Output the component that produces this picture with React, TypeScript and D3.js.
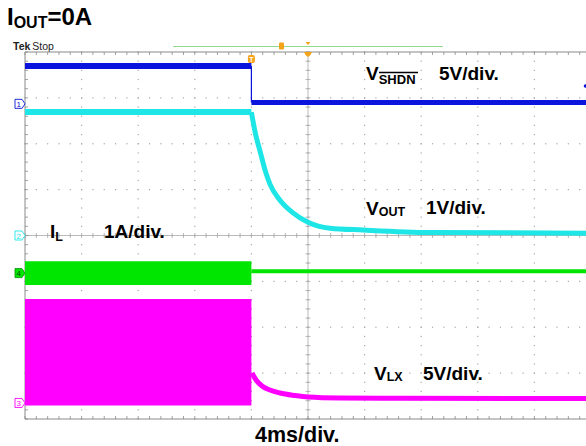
import React from "react";
import * as d3 from "d3";

// ---- data (time in ms, values in channel units) ----
const channelNames = ["1", "2", "3", "4"];
const voltsPerDiv = { ch1: 5, ch2: 1, ch3: 5, ch4: 1 };
const offsetDiv = { ch1: 2.87, ch2: 0, ch3: -3.65, ch4: -0.82 };

const stepTime = 16;

// CH1 V_SHDN
const shdnTime = [0, 16, 16, 40];
const shdnVolts = [4.12, 4.12, 0.15, 0.15];

// CH2 V_OUT
const voutTime = [0, 16, 16.3, 16.61, 16.96, 17.31, 18.02, 18.87, 20.0, 21.55, 23.9, 28.6, 40];
const voutVolts = [2.69, 2.69, 2.2, 1.84, 1.43, 1.12, 0.77, 0.51, 0.29, 0.16, 0.12, 0.065, 0.05];

// CH4 I_L
const ilBeforeTime = [0, 16];
const ilBeforeLo = [-0.26, -0.26];
const ilBeforeHi = [0.26, 0.26];
const ilAfterTime = [16, 40];
const ilAfterAmps = [0.04, 0.04];

// CH3 V_LX
const lxBeforeTime = [0, 16];
const lxBeforeLo = [-0.28, -0.28];
const lxBeforeHi = [11.33, 11.33];
const lxAfterTime = [16.04, 16.33, 16.75, 17.31, 18.02, 19.08, 20.0, 22.26, 26.5, 40];
const lxAfterVolts = [3.26, 2.5, 1.85, 1.41, 1.08, 0.81, 0.65, 0.54, 0.5, 0.49];

const timeDomain = [0, 40];
const divDomain = [-4, 4];

const W = 586;
const H = 446;

const C = {
  blue: "#0a14dc",
  cyan: "#1ee6e6",
  green: "#00e600",
  magenta: "#ff00ff",
  orange: "#f5a318",
  grid: "#a8a8a8",
  border: "#8a8a8a",
};

const FONT = "'Liberation Sans', Arial, sans-serif";

export default function App() {
  const x = d3.scaleLinear().domain(timeDomain).range([25, 591]);
  const yd = d3.scaleLinear().domain(divDomain).range([419, 52]);
  const ych = (ch: keyof typeof offsetDiv) => (v: number) =>
    yd(offsetDiv[ch] + v / voltsPerDiv[ch]);

  const y1 = ych("ch1");
  const y2 = ych("ch2");
  const y3 = ych("ch3");
  const y4 = ych("ch4");

  const lineOf = (ts: number[], vs: number[], yf: (v: number) => number, curve = d3.curveLinear) =>
    d3
      .line<number>()
      .x((_, i) => x(ts[i]))
      .y((v) => yf(v))
      .curve(curve)(vs) || "";

  const areaOf = (ts: number[], lo: number[], hi: number[], yf: (v: number) => number) =>
    d3
      .area<number>()
      .x((_, i) => x(ts[i]))
      .y0((_, i) => yf(lo[i]))
      .y1((_, i) => yf(hi[i]))(ts) || "";

  // grid
  const majorX = d3.range(0, 11).map((i) => x(i * 4));
  const majorY = d3.range(-4, 5).map((j) => yd(j));
  const minorX = d3.range(0, 51).map((i) => x(i * 0.8));
  const minorY = d3.range(0, 41).map((j) => yd(-4 + j * 0.2));
  const cx = x(20);
  const cy = yd(0);

  const gridDots: React.ReactNode[] = [];
  majorX.slice(1).forEach((gx, i) => {
    minorY.forEach((my, j) =>
      gridDots.push(<rect key={`vx${i}-${j}`} x={gx - 0.6} y={my - 0.6} width={1.2} height={1.2} fill={C.grid} />)
    );
  });
  majorY.slice(1, -1).forEach((gy, i) => {
    minorX.forEach((mx, j) =>
      gridDots.push(<rect key={`hy${i}-${j}`} x={mx - 0.6} y={gy - 0.6} width={1.2} height={1.2} fill={C.grid} />)
    );
  });

  const marker = (label: string, yy: number, stroke: string, fill: string, text: string) => (
    <g key={label}>
      <path
        d={`M15,${yy - 4.5} H22 L25,${yy} L22,${yy + 4.5} H15 Z`}
        fill={fill}
        stroke={stroke}
        strokeWidth={0.9}
      />
      <text x={18.7} y={yy + 3} fontSize={8} fontFamily={FONT} fill={text} textAnchor="middle">
        {label}
      </text>
    </g>
  );

  const ys = shdnVolts;
  return (
    <svg
      width={W}
      height={H}
      viewBox={`0 0 ${W} ${H}`}
      style={{ position: "absolute", left: 0, top: 0, background: "#fff" }}
    >
      <rect x={0} y={0} width={W} height={H} fill="#fff" />

      {/* title */}
      <text x={7} y={25} fontFamily={FONT} fontWeight="bold" fontSize={24} fill="#000">
        I
        <tspan fontSize={16} dy={3}>OUT</tspan>
        <tspan dy={-3}>=0A</tspan>
      </text>

      {/* Tek Stop */}
      <text x={13} y={50} fontFamily={FONT} fontSize={10.5} fill="#222">
        <tspan fontWeight="bold">Tek</tspan>
        <tspan dx={2}>Stop</tspan>
      </text>

      {/* top green record bar */}
      <line x1={173} x2={443} y1={46.5} y2={46.5} stroke="#8fdc8f" strokeWidth={1.2} />
      <rect x={279} y={42.5} width={5} height={7} rx={1} fill={C.orange} />
      <path d={`M${cx - 2.5},42 L${cx + 2.5},42 L${cx},45 Z`} fill={C.orange} />

      {/* grid dots */}
      {gridDots}

      {/* center cross */}
      <line x1={25} x2={591} y1={cy} y2={cy} stroke={C.grid} strokeWidth={0.8} />
      <line x1={cx} x2={cx} y1={52} y2={419} stroke={C.grid} strokeWidth={0.8} />
      {minorX.map((mx, i) => (
        <line key={`ctx${i}`} x1={mx} x2={mx} y1={cy - 2.5} y2={cy + 2.5} stroke={C.grid} strokeWidth={0.8} />
      ))}
      {minorY.map((my, i) => (
        <line key={`cty${i}`} x1={cx - 2.5} x2={cx + 2.5} y1={my} y2={my} stroke={C.grid} strokeWidth={0.8} />
      ))}

      {/* borders */}
      <line x1={25} x2={591} y1={52} y2={52} stroke={C.border} strokeWidth={1} />
      <line x1={25} x2={591} y1={419} y2={419} stroke={C.border} strokeWidth={1} />
      <line x1={25} x2={25} y1={52} y2={419} stroke={C.border} strokeWidth={1} />
      {minorX.map((mx, i) => (
        <g key={`bt${i}`}>
          <line x1={mx} x2={mx} y1={52} y2={55} stroke={C.border} strokeWidth={0.8} />
          <line x1={mx} x2={mx} y1={416} y2={419} stroke={C.border} strokeWidth={0.8} />
        </g>
      ))}
      {minorY.map((my, i) => (
        <line key={`lt${i}`} x1={25} x2={28} y1={my} y2={my} stroke={C.border} strokeWidth={0.8} />
      ))}

      {/* trigger position marker */}
      <path d={`M${cx - 4},52 L${cx + 4},52 L${cx + 2.5},55 L${cx},57 L${cx - 2.5},55 Z`} fill={C.orange} />

      {/* CH3 V_LX */}
      <path d={areaOf(lxBeforeTime, lxBeforeLo, lxBeforeHi, y3)} fill={C.magenta} />
      <path
        d={lineOf(lxAfterTime, lxAfterVolts, y3, d3.curveMonotoneX)}
        fill="none"
        stroke={C.magenta}
        strokeWidth={5}
      />

      {/* CH4 I_L */}
      <path d={areaOf(ilBeforeTime, ilBeforeLo, ilBeforeHi, y4)} fill={C.green} />
      <path d={lineOf(ilAfterTime, ilAfterAmps, y4)} fill="none" stroke={C.green} strokeWidth={4} />

      {/* CH2 V_OUT */}
      <path
        d={lineOf(voutTime.slice(0, 2), voutVolts.slice(0, 2), y2)}
        fill="none"
        stroke={C.cyan}
        strokeWidth={6}
      />
      <path
        d={lineOf(voutTime.slice(1), voutVolts.slice(1), y2, d3.curveMonotoneX)}
        fill="none"
        stroke={C.cyan}
        strokeWidth={5}
      />

      {/* CH1 V_SHDN */}
      <path d={lineOf(shdnTime.slice(0, 2), ys.slice(0, 2), y1)} fill="none" stroke={C.blue} strokeWidth={6} />
      <path d={lineOf(shdnTime.slice(1, 3), ys.slice(1, 3), y1)} fill="none" stroke={C.blue} strokeWidth={1.2} />
      <path d={lineOf(shdnTime.slice(2), ys.slice(2), y1)} fill="none" stroke={C.blue} strokeWidth={5} />
      <circle cx={585.5} cy={86} r={1.8} fill={C.blue} />

      {/* trigger T marker */}
      <rect x={x(stepTime) - 3.5} y={55} width={7} height={8} rx={2} fill={C.orange} />
      <text x={x(stepTime)} y={62} fontSize={7} fontFamily={FONT} fill="#fff" textAnchor="middle" fontWeight="bold">
        T
      </text>

      {/* channel markers */}
      {marker(channelNames[0], y1(0), C.blue, "#fff", C.blue)}
      {marker(channelNames[1], y2(0), C.cyan, "#fff", C.cyan)}
      {marker(channelNames[3], y4(0), "#0a9a0a", C.green, "#064d06")}
      {marker(channelNames[2], y3(0), C.magenta, "#fff", C.magenta)}

      {/* labels */}
      <g fontFamily={FONT} fontWeight="bold" fill="#000">
        <text x={366} y={80} fontSize={19}>
          V<tspan fontSize={13} dy={4}>SHDN</tspan>
        </text>
        <line x1={379} x2={418} y1={72.5} y2={72.5} stroke="#000" strokeWidth={1.3} />
        <text x={439} y={80} fontSize={19}>5V/div.</text>

        <text x={366} y={215} fontSize={19}>
          V<tspan fontSize={12.5} dy={1}>OUT</tspan>
        </text>
        <text x={426} y={214} fontSize={19}>1V/div.</text>

        <text x={50} y={238} fontSize={19}>
          I<tspan fontSize={12.5} dy={3}>L</tspan>
        </text>
        <text x={104} y={238} fontSize={19}>1A/div.</text>

        <text x={374} y={380} fontSize={19}>
          V<tspan fontSize={12.5} dy={1}>LX</tspan>
        </text>
        <text x={423} y={380} fontSize={19}>5V/div.</text>

        <text x={255} y={442} fontSize={21.5}>4ms/div.</text>
      </g>
    </svg>
  );
}
